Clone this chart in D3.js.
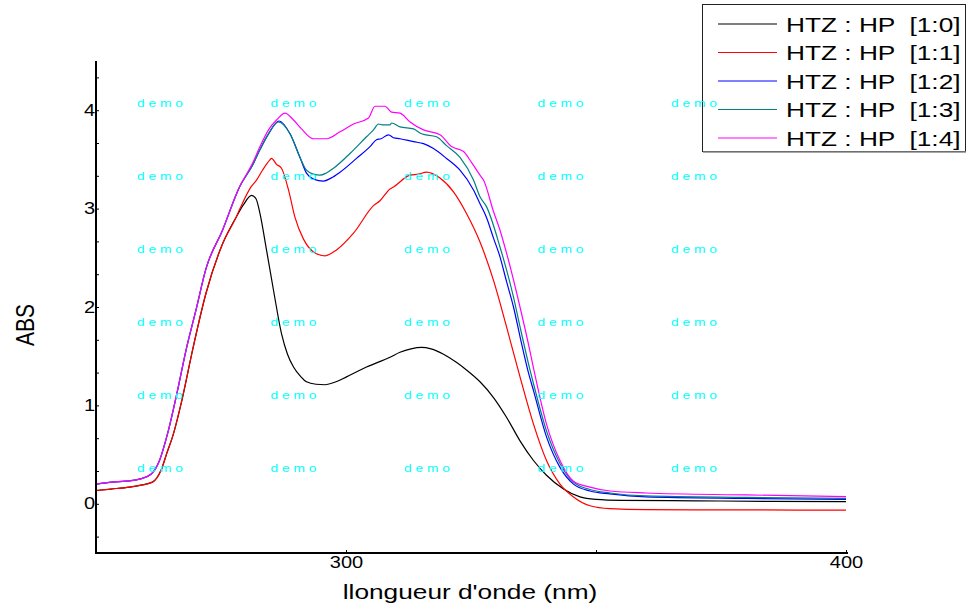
<!DOCTYPE html>
<html>
<head>
<meta charset="utf-8">
<script src="https://cdn.jsdelivr.net/npm/d3@7"></script>
<style>
  html, body { margin: 0; padding: 0; background: #fff; }
  svg { display: block; font-family: "Liberation Sans", Arial, sans-serif; }
</style>
</head>
<body>
<svg id="chart" width="967" height="610"></svg>
<script>
// Absorbance spectra, [wavelength (nm), ABS]
const series10 = [[250,0.135],[253,0.15],[256.7,0.17],[259,0.19],[261.3,0.22],[263,0.34],[264.2,0.52],[265.3,0.68],[267.3,1.08],[269.3,1.56],[272,2.14],[275.3,2.64],[278,2.91],[279.5,3.04],[281.1,3.135],[282,3.10],[282.8,2.95],[284.1,2.58],[285.5,2.17],[287.1,1.73],[288.3,1.52],[289.5,1.39],[291,1.29],[292.1,1.24],[294,1.215],[295.8,1.21],[298,1.24],[300.1,1.29],[304.1,1.39],[308.8,1.49],[310.8,1.54],[313,1.575],[315.1,1.59],[317,1.575],[319.5,1.52],[322,1.44],[324.1,1.36],[326.8,1.24],[329.5,1.08],[332.1,0.88],[334.8,0.64],[337.5,0.44],[340.1,0.29],[343.5,0.15],[346.8,0.07],[350,0.045],[355,0.035],[370,0.03],[385,0.025],[400,0.022]];
const series11 = [[250,0.135],[253,0.15],[256.7,0.17],[259,0.19],[261.3,0.22],[263,0.34],[264.2,0.52],[265.3,0.68],[267.3,1.08],[269.3,1.56],[272,2.14],[275.3,2.64],[278,2.91],[278.8,3.00],[281,3.22],[282.1,3.29],[283.3,3.39],[284.7,3.49],[285.1,3.51],[286.1,3.45],[287.1,3.41],[288.5,3.19],[289.8,2.91],[291.5,2.69],[293.5,2.56],[295.8,2.52],[298.1,2.58],[301.5,2.75],[305.5,3.03],[306.8,3.08],[308.8,3.20],[309.5,3.22],[312.8,3.34],[314.5,3.35],[316.1,3.37],[318.8,3.31],[321.5,3.17],[324.1,2.95],[326.8,2.66],[329.5,2.27],[332.1,1.80],[334.8,1.29],[337.5,0.81],[340.1,0.44],[342.8,0.20],[345.5,0.07],[348.8,-0.02],[352.8,-0.05],[360,-0.06],[380,-0.062],[400,-0.065]];
const series12 = [[250,0.20],[253.3,0.22],[256,0.23],[258.7,0.25],[261,0.30],[262.7,0.44],[264.3,0.71],[266.3,1.15],[268,1.56],[270,1.97],[272,2.39],[275.3,2.78],[278.7,3.22],[281.3,3.44],[282.7,3.59],[284.5,3.76],[286.6,3.89],[288.8,3.76],[290.8,3.52],[292.1,3.36],[293.5,3.30],[295.5,3.28],[297,3.31],[298.8,3.37],[302.1,3.51],[304.8,3.63],[306.1,3.70],[307,3.71],[308.5,3.75],[309.5,3.72],[310.8,3.71],[313.5,3.68],[315.5,3.66],[317.5,3.61],[320.1,3.51],[322.8,3.39],[325.5,3.19],[326.8,3.05],[328.1,2.91],[329.5,2.70],[330.8,2.51],[332.1,2.26],[333.5,2.00],[334.8,1.70],[336.5,1.33],[337.5,1.15],[340.1,0.68],[342.8,0.37],[345.5,0.20],[348.8,0.13],[352.8,0.10],[360,0.07],[380,0.055],[400,0.045]];
const series13 = [[250,0.20],[253.3,0.22],[256,0.23],[258.7,0.25],[261,0.30],[262.7,0.44],[264.3,0.71],[266.3,1.15],[268,1.56],[270,1.97],[272,2.39],[275.3,2.78],[278.7,3.22],[281.3,3.44],[282.7,3.59],[284.5,3.76],[286.5,3.88],[288.8,3.76],[290.8,3.52],[292.1,3.39],[293.5,3.35],[294.8,3.34],[296,3.36],[297.5,3.41],[300.8,3.56],[304.1,3.73],[305.5,3.80],[306.5,3.86],[307.5,3.85],[308.8,3.85],[309.1,3.87],[310.8,3.83],[313.5,3.81],[315.1,3.76],[318.1,3.73],[320.1,3.64],[322.8,3.52],[325.5,3.29],[326.8,3.12],[328.1,3.02],[330.8,2.61],[333.5,2.10],[334.8,1.80],[336.8,1.36],[337.5,1.22],[340.1,0.74],[342.8,0.41],[345.5,0.22],[348.8,0.145],[352.8,0.11],[360,0.08],[380,0.065],[400,0.055]];
const series14 = [[250,0.20],[253.3,0.22],[256,0.23],[258.7,0.25],[261,0.30],[262.7,0.44],[264.3,0.71],[266.3,1.15],[268,1.56],[270,1.97],[272,2.39],[275.3,2.78],[278.7,3.22],[281.3,3.46],[282.8,3.63],[284.5,3.80],[286.1,3.90],[287.8,3.97],[289.5,3.90],[291.1,3.81],[293.5,3.71],[296.1,3.71],[298.8,3.78],[301.5,3.86],[304.5,3.92],[305.8,4.04],[307.8,4.04],[309.1,3.98],[310.8,3.97],[312.8,3.88],[315.5,3.80],[318.8,3.75],[321.1,3.63],[323.5,3.58],[325.1,3.47],[326.8,3.34],[327.5,3.29],[329.5,2.97],[330.8,2.78],[332.1,2.55],[334.8,2.00],[336.8,1.55],[337.5,1.38],[340.1,0.81],[342.8,0.44],[345.5,0.23],[348.8,0.17],[352.8,0.13],[360,0.11],[380,0.09],[400,0.073]];

const seriesNames = ["HTZ : HP  [1:0]", "HTZ : HP  [1:1]", "HTZ : HP  [1:2]", "HTZ : HP  [1:3]", "HTZ : HP  [1:4]"];
const seriesColors = ["#000000", "#ff0000", "#0000ff", "#008080", "#ff00ff"];
const seriesData = [series10, series11, series12, series13, series14];

const xTickValues = [300, 350, 400];
const xTickLabels = ["300", "", "400"];
const yTickValues = [-1/3, 0, 1/3, 2/3, 1, 4/3, 5/3, 2, 7/3, 8/3, 3, 10/3, 11/3, 4, 13/3];
const yTickLabels = ["", "0", "", "", "1", "", "", "2", "", "", "3", "", "", "4", ""];

const xTitle = "llongueur d'onde (nm)";
const yTitle = "ABS";
const watermark = "d e m o";

const svg = d3.select("#chart");
const stretch = 1.25;   // horizontal glyph widening used throughout

const x = d3.scaleLinear().domain([250, 400]).range([96, 846]);
const y = d3.scaleLinear().domain([-0.5, 4.5]).range([553, 61]);

// widen a text element horizontally, keeping its anchor
function widen(sel) {
  sel.each(function () {
    const len = this.getComputedTextLength();
    if (len > 0) {
      d3.select(this).attr("textLength", len * stretch).attr("lengthAdjust", "spacingAndGlyphs");
    }
  });
}

// curves
const line = d3.line().x(d => x(d[0])).y(d => y(d[1])).curve(d3.curveMonotoneX);
svg.append("g").selectAll("path")
  .data(seriesData)
  .join("path")
  .attr("d", line)
  .attr("fill", "none")
  .attr("stroke", (d, i) => seriesColors[i])
  .attr("stroke-width", 1.2)
  .attr("stroke-linejoin", "round");

// y axis
const yAxis = svg.append("g")
  .attr("transform", `translate(${x(250)},0)`)
  .call(d3.axisLeft(y).tickValues(yTickValues).tickSize(-3).tickPadding(1)
    .tickFormat((d, i) => yTickLabels[i]));
yAxis.select(".domain").remove();
yAxis.selectAll(".tick line").attr("stroke", "#000").attr("stroke-width", 1);
yAxis.selectAll(".tick text").attr("font-size", 16).attr("font-family", "Liberation Sans, Arial, sans-serif").attr("fill", "#000").call(widen);
svg.append("line").attr("x1", x(250)).attr("x2", x(250)).attr("y1", y(4.5)).attr("y2", y(-0.5) + 1)
  .attr("stroke", "#000").attr("stroke-width", 2);

// x axis
const xAxis = svg.append("g")
  .attr("transform", `translate(0,${y(-0.5)})`)
  .call(d3.axisBottom(x).tickValues(xTickValues).tickSize(-3).tickPadding(4)
    .tickFormat((d, i) => xTickLabels[i]));
xAxis.select(".domain").remove();
xAxis.selectAll(".tick line").attr("stroke", "#000").attr("stroke-width", 1);
xAxis.selectAll(".tick text").attr("font-size", 16).attr("font-family", "Liberation Sans, Arial, sans-serif").attr("fill", "#000").call(widen);
svg.append("line").attr("x1", x(250) - 1).attr("x2", x(400) + 2).attr("y1", y(-0.5)).attr("y2", y(-0.5))
  .attr("stroke", "#000").attr("stroke-width", 2);

// axis titles
svg.append("text")
  .attr("x", 470).attr("y", 599)
  .attr("text-anchor", "middle")
  .attr("font-size", 21)
  .text(xTitle).call(widen);

svg.append("text")
  .attr("transform", `translate(34,325) scale(${stretch},1) rotate(-90)`)
  .attr("text-anchor", "middle")
  .attr("font-size", 21)
  .text(yTitle);

// legend
const legend = svg.append("g");
legend.append("rect")
  .attr("x", 702.5).attr("y", 4.5).attr("width", 263).attr("height", 147)
  .attr("fill", "#fff").attr("stroke", "#222").attr("stroke-width", 1);
legend.append("line").attr("x1", 703).attr("x2", 966).attr("y1", 152).attr("y2", 152)
  .attr("stroke", "#888").attr("stroke-width", 1.5);
const rows = legend.selectAll("g.row")
  .data(seriesNames)
  .join("g")
  .attr("class", "row")
  .attr("transform", (d, i) => `translate(0,${24 + i * 28.5})`);
rows.append("line")
  .attr("x1", 718).attr("x2", 777)
  .attr("stroke", (d, i) => seriesColors[i]).attr("stroke-width", 1.2);
rows.append("text")
  .attr("x", 786).attr("y", 7.5)
  .attr("font-size", 21)
  .style("white-space", "pre")
  .text(d => d).call(widen);

// watermark grid
const wmCols = d3.range(5), wmRows = d3.range(6);
const wm = svg.append("g").attr("fill", "#00ffff").attr("font-size", 10.5);
wmRows.forEach(r => wmCols.forEach(c => {
  wm.append("text")
    .attr("x", 137 + c * 133.5)
    .attr("y", 107 + r * 73)
    .style("white-space", "pre")
    .text(watermark)
    .attr("textLength", 46).attr("lengthAdjust", "spacingAndGlyphs");
}));
</script>
</body>
</html>
